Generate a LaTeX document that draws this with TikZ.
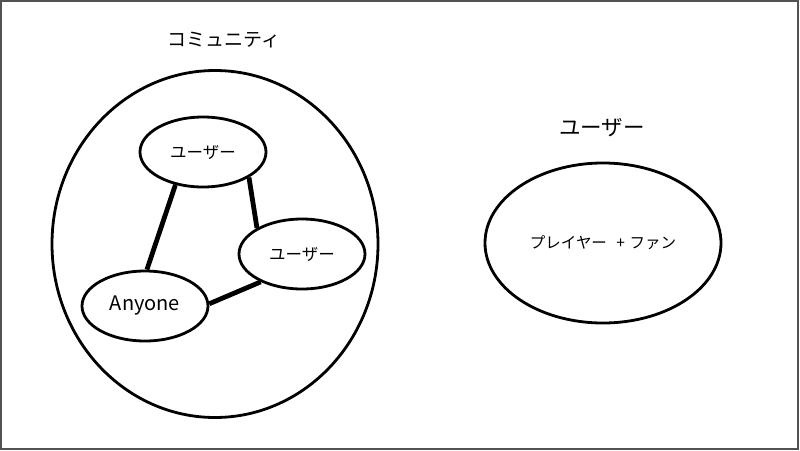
\documentclass[tikz,border=0pt]{standalone}
\usepackage{fontspec}
\setmainfont{Noto Sans CJK JP}
\usetikzlibrary{shapes.geometric}
\begin{document}
\begin{tikzpicture}[x=1pt,y=-1pt,
  oval/.style={ellipse,draw=black,line width=2.8pt,inner sep=0pt,fill=white},
  link/.style={line width=4.8pt,black},
  ttl/.style={inner sep=0pt,font=\fontsize{19}{19}\selectfont}]
\useasboundingbox (0,0) rectangle (800,450);
\fill[white] (0,0) rectangle (800,450);
\draw[line width=2pt,draw=black!68] (1,1) rectangle (797.5,448.5);
% community
\node[ttl] (ctitle) at (224,40) {コミュニティ};
\node[oval,minimum width=326pt,minimum height=347pt] (comm) at (215,244) {};
\node[oval,minimum width=126pt,minimum height=70pt,font=\fontsize{16.5}{17}\selectfont] (u1) at (203,152) {ユーザー};
\node[oval,minimum width=126pt,minimum height=70pt,font=\fontsize{16.5}{17}\selectfont] (u2) at (302,254) {ユーザー};
\node[oval,minimum width=126pt,minimum height=70pt,font=\fontsize{20}{20}\selectfont] (any) at (145,306) {Anyone};
\draw[link] (u1.230) -- (any.87);
\draw[link] (u1.331) -- (u2.150);
\draw[link] (any.2) -- (u2.214);
% user
\node[ttl,font=\fontsize{21.5}{22}\selectfont] (utitle) at (602,128) {ユーザー};
\node[oval,minimum width=236pt,minimum height=160pt,font=\fontsize{15.5}{16}\selectfont] (pf) at (603,243) {プレイヤー\hspace{0.6em}+\hspace{0.3em}ファン};
\end{tikzpicture}
\end{document}
